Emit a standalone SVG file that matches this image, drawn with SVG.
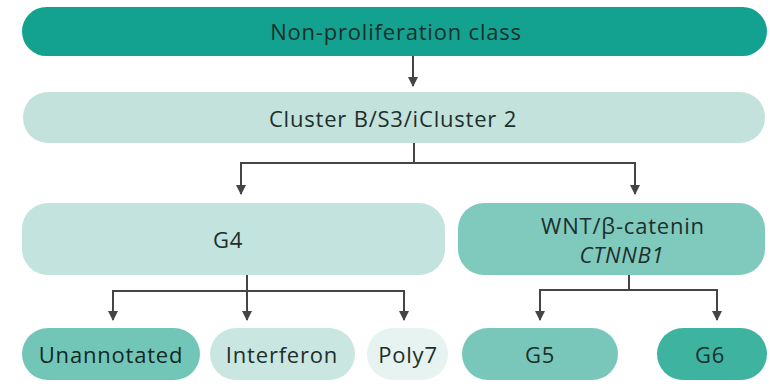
<svg xmlns="http://www.w3.org/2000/svg" width="770" height="390" viewBox="0 0 770 390">
<defs>
<marker id="ah" markerWidth="10" markerHeight="10" refX="9" refY="5" orient="auto" markerUnits="userSpaceOnUse" viewBox="0 0 10 10">
<path d="M0,0 L10,5 L0,10 Z" fill="#454545"/>
</marker>
<style>
text{font-family:"Open Sans","Noto Sans","DejaVu Sans",sans-serif;font-size:22px;letter-spacing:0.8px;fill:#1c2f2c;text-anchor:middle;dominant-baseline:central}
.ln{fill:none;stroke:#454545;stroke-width:2}
.arr{fill:none;stroke:#454545;stroke-width:2;marker-end:url(#ah)}
</style>
</defs>
<rect width="770" height="390" fill="#ffffff"/>
<g id="connectors">
<line class="arr" x1="413" y1="56" x2="413" y2="86"/>
<polyline class="ln" points="414,143 414,163"/>
<polyline class="ln" points="241,163 635,163"/>
<line class="arr" x1="241" y1="162" x2="241" y2="194"/>
<line class="arr" x1="635" y1="162" x2="635" y2="194"/>
<polyline class="ln" points="247,275 247,291"/>
<polyline class="ln" points="113,291 404,291"/>
<line class="arr" x1="113" y1="290" x2="113" y2="320"/>
<line class="arr" x1="247" y1="290" x2="247" y2="320"/>
<line class="arr" x1="404" y1="290" x2="404" y2="320"/>
<polyline class="ln" points="629,275 629,290"/>
<polyline class="ln" points="540,290 717,290"/>
<line class="arr" x1="540" y1="289" x2="540" y2="320"/>
<line class="arr" x1="717" y1="289" x2="717" y2="320"/>
</g>
<g id="n-nonprolif">
<rect x="22" y="7" width="745" height="49" rx="24.5" fill="#13a190"/>
<text x="396" y="31">Non-proliferation class</text>
</g>
<g id="n-clusterB">
<rect x="23" y="92" width="742" height="51" rx="25" fill="#c4e2dc"/>
<text x="393" y="118">Cluster B/S3/iCluster 2</text>
</g>
<g id="n-g4">
<rect x="22" y="203" width="423" height="72" rx="26" fill="#c3e3de"/>
<text x="228" y="239">G4</text>
</g>
<g id="n-wnt">
<rect x="458" y="203" width="307" height="72" rx="26" fill="#80c9bd"/>
<text x="623" y="225">WNT/β-catenin</text>
<text x="622" y="254" font-style="italic">CTNNB1</text>
</g>
<g id="n-unannotated">
<rect x="22" y="328" width="178" height="52" rx="26" fill="#72c6b8"/>
<text x="111" y="354" style="fill:#122824">Unannotated</text>
</g>
<g id="n-interferon">
<rect x="210" y="328" width="145" height="52" rx="26" fill="#c9e6e0"/>
<text x="282" y="354">Interferon</text>
</g>
<g id="n-poly7">
<rect x="367" y="328" width="81" height="52" rx="26" fill="#e6f3f0"/>
<text x="408" y="354">Poly7</text>
</g>
<g id="n-g5">
<rect x="462" y="328" width="156" height="52" rx="26" fill="#79c7ba"/>
<text x="540" y="354">G5</text>
</g>
<g id="n-g6">
<rect x="657" y="328" width="110" height="52" rx="26" fill="#3eb3a0"/>
<text x="710" y="354">G6</text>
</g>
</svg>
